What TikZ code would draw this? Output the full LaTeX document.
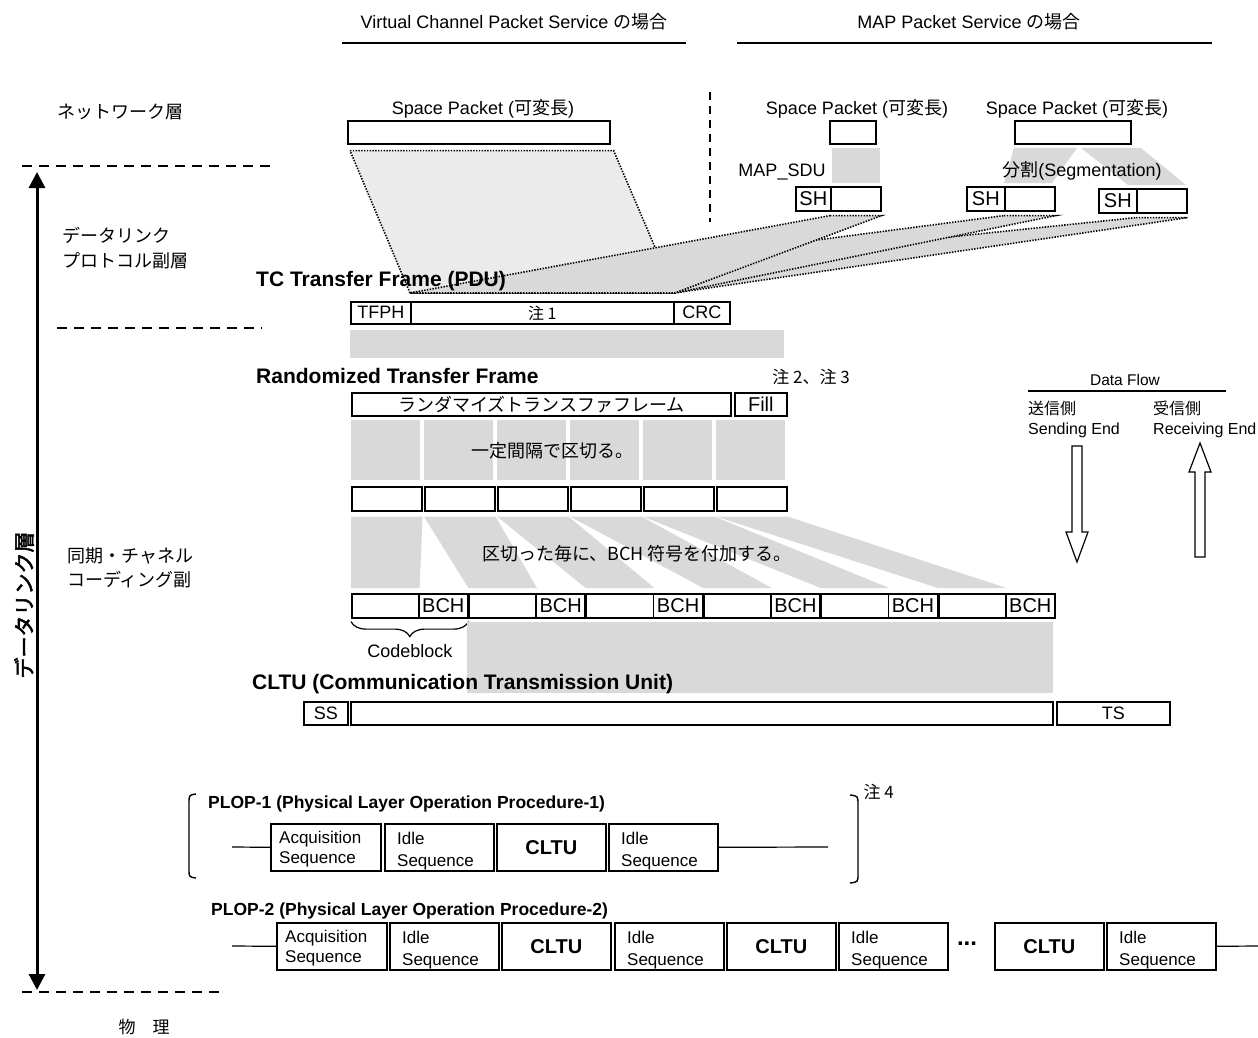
\documentclass[tikz,border=0pt]{standalone}
\usepackage{fontspec}
\setmainfont{Liberation Sans}
\newfontfamily\jp{Noto Sans CJK JP}
\newfontfamily\jpb{Noto Sans CJK JP}[FakeBold=2.5]
\usetikzlibrary{arrows.meta,decorations.pathreplacing}

\begin{document}
\begin{tikzpicture}[x=1pt, y=-1pt, font=\fontsize{18}{21}\selectfont,
  box/.style={draw, line width=1.6pt, anchor=north west, inner sep=0pt, minimum height=23},
  seqbox/.style={box, minimum width=109, minimum height=47},
  band/.style={fill=gray!30},
  sheet/.style={fill=gray!30, draw, dash pattern=on 1.4pt off 1.4pt, line width=1.6pt},
  hdr/.style={anchor=west, inner xsep=0pt, font=\fontsize{21}{24}\selectfont\bfseries},
  phdr/.style={anchor=west, inner xsep=0pt, font=\fontsize{17.5}{20}\selectfont\bfseries},
  sublayer/.style={dash pattern=on 10pt off 7pt, line width=1.4pt},
  seqtxt/.style={anchor=north west, align=left, inner sep=0pt, font=\fontsize{17}{20}\selectfont},
  hollow/.style={draw, line width=1.2pt, fill=white}]
\useasboundingbox (0,0) rectangle (1258,1038);

% service headings
\node (vchead) at (514,22) {Virtual Channel Packet Service {\jp の場合}};
\draw[line width=1.2pt] (342,43) -- (686,43);
\node (maphead) at (969,22) {MAP Packet Service {\jp の場合}};
\draw[line width=1.2pt] (737,43) -- (1212,43);
\draw[dash pattern=on 8pt off 6pt, line width=1.5pt] (710,92) -- (710,222);

% layers on the left
\node[anchor=west, inner xsep=0pt, font=\jp\fontsize{18}{21}\selectfont] (netl) at (57,112) {ネットワーク層};
\draw[sublayer] (22,166) -- (270,166);
\node[anchor=west, align=left, inner xsep=0pt, font=\jp\fontsize{18}{25}\selectfont] (dlpl) at (62,248) {データリンク\\プロトコル副層};
\draw[sublayer] (57,328) -- (262,328);
\node[anchor=west, align=left, inner xsep=0pt, font=\jp\fontsize{18}{24}\selectfont] (scl) at (67,568) {同期・チャネル\\コーディング副};
\draw[sublayer] (22,992) -- (225,992);
\node[font=\jp\fontsize{17}{20}\selectfont] (phys) at (144,1027) {物　理};
\coordinate (dltop) at (37,172);
\coordinate (dlbot) at (37,990);
\draw[{Triangle[width=16pt,length=16pt]}-{Triangle[width=16pt,length=16pt]}, line width=3pt] (dltop) -- (dlbot);
\node[rotate=90, font=\jpb\fontsize{21}{24}\selectfont] (dllbl) at (24,605) {データリンク層};

% space packets and MAP_SDUs
\node (vclbl) at (483,109) {Space Packet ({\jp 可変長})};
\node[box, minimum width=262] (vcpkt) at (347,120) {};
\node (map1lbl) at (857,109) {Space Packet ({\jp 可変長})};
\node[box, minimum width=46] (mappkt1) at (829,120) {};
\node (map2lbl) at (1077,109) {Space Packet ({\jp 可変長})};
\node[box, minimum width=116] (mappkt2) at (1014,120) {};
\fill[band] (832,148) rectangle (880,183);
\fill[band] (1014,148) -- (1077,148) -- (1052,183) -- (1004,183) -- cycle;
\fill[band] (1081,148) -- (1141,148) -- (1186,185) -- (1128,185) -- cycle;
\node (mapsdu) at (782,172) {MAP\_SDU};
\node (seglbl) at (1082,171) {{\jp 分割}(Segmentation)};
\node[box, minimum width=35, minimum height=24, font=\fontsize{20}{24}\selectfont] (sh1) at (795,186) {SH};
\node[box, minimum width=50, minimum height=24] (shd1) at (830,186) {};
\node[box, minimum width=38, minimum height=24, font=\fontsize{20}{24}\selectfont] (sh2) at (966,186) {SH};
\node[box, minimum width=50, minimum height=24] (shd2) at (1004,186) {};
\node[box, minimum width=38, minimum height=24, font=\fontsize{20}{24}\selectfont] (sh3) at (1098,188) {SH};
\node[box, minimum width=50, minimum height=24] (shd3) at (1136,188) {};

% TC transfer frame
\node[box, minimum width=60, minimum height=22] (tfph) at (350,301) {TFPH};
\node[box, minimum width=263, minimum height=22, font=\jp\fontsize{16}{20}\selectfont] (tfdata) at (410,301) {注 1};
\node[box, minimum width=56, minimum height=22] (crc) at (673,301) {CRC};
\filldraw[sheet, fill=gray!16] ([shift={(3,6)}]vcpkt.south west) -- ([shift={(3,6)}]vcpkt.south east)
  -- ([yshift=8pt]tfdata.north east) -- ([yshift=8pt]tfdata.north west) -- cycle;
\foreach \i in {3,2,1}
  \filldraw[sheet] ([yshift=-4pt]shd\i.south west) -- ([yshift=-4pt]shd\i.south east)
    -- ([yshift=8pt]tfdata.north east) -- ([yshift=8pt]tfdata.north west) -- cycle;
\node[hdr] (tclbl) at (256,281) {TC Transfer Frame (PDU)};
\fill[band] (350,330) rectangle (784,358);

% randomized frame, cut into pieces
\node[hdr] (rtflbl) at (256,376) {Randomized Transfer Frame};
\node[font=\jp\fontsize{17}{20}\selectfont] (note23) at (811,377) {注 2、注 3};
\node[box, minimum width=379, font=\jp\fontsize{18}{21}\selectfont] (rtf) at (351,392) {ランダマイズトランスファフレーム};
\node[box, minimum width=52, font=\fontsize{20}{24}\selectfont] (fillbox) at (734,392) {Fill};
\foreach \i in {0,...,5} \fill[band] ({351+73*\i},420) rectangle +(69,60);
\node[font=\jp\fontsize{18}{21}\selectfont] (cutlbl) at (552,451) {一定間隔で区切る。};
\foreach \i in {0,...,5} {
  \node[box, minimum width=70, minimum height=24] (seg\i) at ({351+73*\i},486) {};
  \node[box, minimum width=67, minimum height=24] (cbd\i) at ({351+117.4*\i},593) {};
  \node[box, minimum width=49, minimum height=24, font=\fontsize{20}{24}\selectfont] (bch\i) at ({418+117.4*\i},593) {BCH};
}
\foreach \i in {0,...,5}
  \fill[band] ([yshift=-5pt]seg\i.south west) -- ([yshift=-5pt]seg\i.south east)
    -- ([yshift=5pt]cbd\i.north east) -- ([yshift=5pt]cbd\i.north west) -- cycle;
\node[font=\jp\fontsize{18}{21}\selectfont] (bchlbl) at (637,554) {区切った毎に、BCH 符号を付加する。};
\draw[decorate, decoration={brace, amplitude=15pt}, line width=1.2pt]
  ([yshift=-3pt]bch0.south east) -- ([yshift=-3pt]cbd0.south west) node[midway, below=19pt] (cblbl) {Codeblock};
\fill[band] (467,622) rectangle (1053,693);

% CLTU
\node[hdr] (cltulbl) at (252,684) {CLTU (Communication Transmission Unit)};
\node[box, minimum width=44] (ss) at (303,701) {SS};
\node[box, minimum width=702] (cltubody) at (350,701) {};
\node[box, minimum width=113] (ts) at (1056,701) {TS};

% data flow
\node[font=\fontsize{15.5}{18}\selectfont] (dflbl) at (1125,380) {Data Flow};
\draw[line width=1.2pt] (1028,391) -- (1226,391);
\node[anchor=west, align=left, inner xsep=0pt, font=\fontsize{16}{20}\selectfont] (send) at (1028,419) {{\jp 送信側}\\Sending End};
\node[anchor=west, align=left, inner xsep=0pt, font=\fontsize{16}{20}\selectfont] (recv) at (1153,419) {{\jp 受信側}\\Receiving End};
\draw[hollow] (1072,446) -- (1082,446) -- (1082,532) -- (1088,532) -- (1077,562) -- (1066,532) -- (1072,532) -- cycle;
\draw[hollow] (1195,557) -- (1205,557) -- (1205,472) -- (1211,472) -- (1200,443) -- (1189,472) -- (1195,472) -- cycle;

% PLOP-1
\draw[line width=1.4pt] (196,794) .. controls (189,795) .. (189,804) -- (189,869) .. controls (189,877) .. (196,878);
\draw[line width=1.4pt] (850,795) .. controls (858,796) .. (858,805) -- (858,874) .. controls (858,882) .. (850,883);
\node[anchor=west, font=\jp\fontsize{17}{20}\selectfont] (note4) at (860,792) {注 4};
\node[phdr] (plop1) at (208,804) {PLOP-1 (Physical Layer Operation Procedure-1)};
\node[seqbox, minimum width=110] (acqA) at (270,823) {};
\node[seqtxt] (acqAt) at ([shift={(9,8)}]acqA.north west) {Acquisition\\Sequence};
\foreach \x [count=\i] in {384,608} {
  \node[seqbox] (idleA\i) at (\x,823) {};
  \node[seqtxt, font=\fontsize{17}{22}\selectfont] (idleAt\i) at ([shift={(13,9)}]idleA\i.north west) {Idle\\Sequence};
}
\node[seqbox, font=\fontsize{20}{24}\selectfont\bfseries] (cltuA) at (496,823) {CLTU};
\coordinate (startA) at (232,847);
\coordinate (endA) at (828,847);
\draw[line width=1.2pt] (startA) -- (acqA.west);
\draw[line width=1.2pt] (idleA2.east) -- (endA);

% PLOP-2
\node[phdr] (plop2) at (211,911) {PLOP-2 (Physical Layer Operation Procedure-2)};
\node[seqbox, minimum width=110] (acqB) at (276,922) {};
\node[seqtxt] (acqBt) at ([shift={(9,8)}]acqB.north west) {Acquisition\\Sequence};
\foreach \x [count=\i] in {389,614,838,1106} {
  \node[seqbox] (idleB\i) at (\x,922) {};
  \node[seqtxt, font=\fontsize{17}{22}\selectfont] (idleBt\i) at ([shift={(13,9)}]idleB\i.north west) {Idle\\Sequence};
}
\foreach \x [count=\i] in {501,726,994}
  \node[seqbox, font=\fontsize{20}{24}\selectfont\bfseries] (cltuB\i) at (\x,922) {CLTU};
\node[font=\fontsize{24}{26}\selectfont\bfseries, inner sep=0pt] (dots) at (967,944) {...};
\coordinate (startB) at (232,946);
\coordinate (endB) at (1258,946);
\draw[line width=1.2pt] (startB) -- (acqB.west);
\draw[line width=1.2pt] (idleB4.east) -- (endB);
\end{tikzpicture}
\end{document}
